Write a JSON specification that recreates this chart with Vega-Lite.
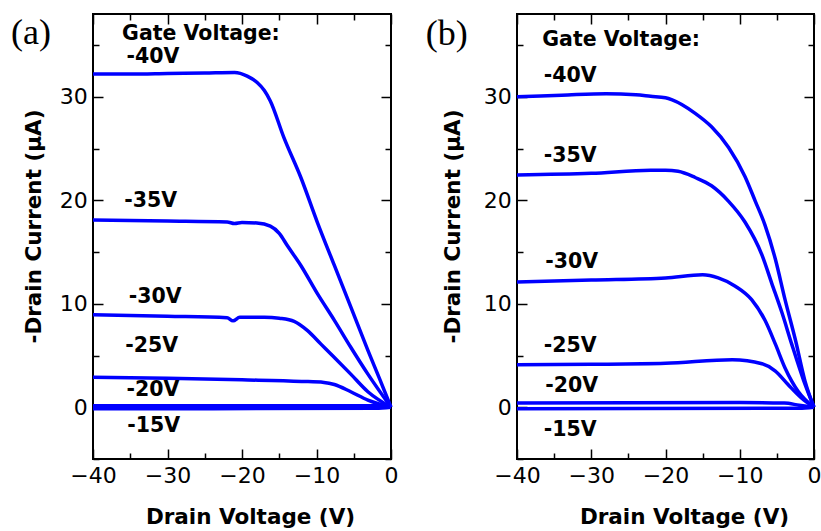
{
  "$schema": "https://vega.github.io/schema/vega-lite/v6.json",
  "background": "white",
  "padding": {"left": 10, "top": 12, "right": 8, "bottom": 3},
  "spacing": 25,
  "config": {
    "view": {"stroke": "black", "strokeWidth": 2},
    "axis": {
      "domain": false,
      "grid": false,
      "labelFont": "DejaVu Sans",
      "labelFontSize": 22,
      "labelColor": "black",
      "labelFlush": false,
      "labelOverlap": false,
      "tickColor": "black",
      "tickWidth": 1.5,
      "titleFont": "DejaVu Sans",
      "titleFontSize": 21.5,
      "titleFontWeight": "bold",
      "titleColor": "black"
    }
  },
  "datasets": {
    "curves": [
      {"p": "a", "g": "-40V", "V": -40, "I": 32.2},
      {"p": "a", "g": "-40V", "V": -35, "I": 32.2},
      {"p": "a", "g": "-40V", "V": -30, "I": 32.25},
      {"p": "a", "g": "-40V", "V": -25, "I": 32.3},
      {"p": "a", "g": "-40V", "V": -21, "I": 32.35},
      {"p": "a", "g": "-40V", "V": -19.3, "I": 32.0},
      {"p": "a", "g": "-40V", "V": -18, "I": 31.4},
      {"p": "a", "g": "-40V", "V": -17, "I": 30.6},
      {"p": "a", "g": "-40V", "V": -16.2, "I": 29.6},
      {"p": "a", "g": "-40V", "V": -14.4, "I": 26.1},
      {"p": "a", "g": "-40V", "V": -12.1, "I": 22.2},
      {"p": "a", "g": "-40V", "V": -9.9, "I": 17.9},
      {"p": "a", "g": "-40V", "V": -7.6, "I": 13.7},
      {"p": "a", "g": "-40V", "V": -5.4, "I": 9.7},
      {"p": "a", "g": "-40V", "V": -3.1, "I": 5.5},
      {"p": "a", "g": "-40V", "V": -1.5, "I": 2.7},
      {"p": "a", "g": "-40V", "V": 0, "I": 0},
      {"p": "a", "g": "-35V", "V": -40, "I": 18.1},
      {"p": "a", "g": "-35V", "V": -30, "I": 18.0},
      {"p": "a", "g": "-35V", "V": -22, "I": 17.9},
      {"p": "a", "g": "-35V", "V": -21, "I": 17.75},
      {"p": "a", "g": "-35V", "V": -20, "I": 17.85},
      {"p": "a", "g": "-35V", "V": -18, "I": 17.8},
      {"p": "a", "g": "-35V", "V": -16.2, "I": 17.5},
      {"p": "a", "g": "-35V", "V": -15, "I": 16.8},
      {"p": "a", "g": "-35V", "V": -13.9, "I": 15.6},
      {"p": "a", "g": "-35V", "V": -12.1, "I": 13.7},
      {"p": "a", "g": "-35V", "V": -9.9, "I": 11.0},
      {"p": "a", "g": "-35V", "V": -7.6, "I": 8.4},
      {"p": "a", "g": "-35V", "V": -5.4, "I": 5.8},
      {"p": "a", "g": "-35V", "V": -3.1, "I": 3.2},
      {"p": "a", "g": "-35V", "V": 0, "I": 0},
      {"p": "a", "g": "-30V", "V": -40, "I": 8.95},
      {"p": "a", "g": "-30V", "V": -30, "I": 8.8},
      {"p": "a", "g": "-30V", "V": -22, "I": 8.65},
      {"p": "a", "g": "-30V", "V": -21.2, "I": 8.35},
      {"p": "a", "g": "-30V", "V": -20.3, "I": 8.7},
      {"p": "a", "g": "-30V", "V": -17, "I": 8.7},
      {"p": "a", "g": "-30V", "V": -15, "I": 8.6},
      {"p": "a", "g": "-30V", "V": -13, "I": 8.3},
      {"p": "a", "g": "-30V", "V": -11.2, "I": 7.4},
      {"p": "a", "g": "-30V", "V": -9.4, "I": 6.1},
      {"p": "a", "g": "-30V", "V": -7.6, "I": 4.8},
      {"p": "a", "g": "-30V", "V": -5.4, "I": 3.2},
      {"p": "a", "g": "-30V", "V": -3.1, "I": 1.5},
      {"p": "a", "g": "-30V", "V": 0, "I": 0},
      {"p": "a", "g": "-25V", "V": -40, "I": 2.9},
      {"p": "a", "g": "-25V", "V": -30, "I": 2.8},
      {"p": "a", "g": "-25V", "V": -20, "I": 2.65},
      {"p": "a", "g": "-25V", "V": -12, "I": 2.5},
      {"p": "a", "g": "-25V", "V": -9, "I": 2.4},
      {"p": "a", "g": "-25V", "V": -7.6, "I": 2.2},
      {"p": "a", "g": "-25V", "V": -5.4, "I": 1.5},
      {"p": "a", "g": "-25V", "V": -3.1, "I": 0.7},
      {"p": "a", "g": "-25V", "V": 0, "I": 0},
      {"p": "a", "g": "-20V", "V": -40, "I": 0.15},
      {"p": "a", "g": "-20V", "V": -2, "I": 0.15},
      {"p": "a", "g": "-20V", "V": 0, "I": 0},
      {"p": "a", "g": "-15V", "V": -40, "I": -0.15},
      {"p": "a", "g": "-15V", "V": -2, "I": -0.1},
      {"p": "a", "g": "-15V", "V": 0, "I": 0},
      {"p": "b", "g": "-40V", "V": -40, "I": 30.0},
      {"p": "b", "g": "-40V", "V": -34, "I": 30.15},
      {"p": "b", "g": "-40V", "V": -28, "I": 30.3},
      {"p": "b", "g": "-40V", "V": -24, "I": 30.2},
      {"p": "b", "g": "-40V", "V": -22, "I": 30.05},
      {"p": "b", "g": "-40V", "V": -20, "I": 29.9},
      {"p": "b", "g": "-40V", "V": -19.1, "I": 29.7},
      {"p": "b", "g": "-40V", "V": -16, "I": 28.4},
      {"p": "b", "g": "-40V", "V": -13.8, "I": 27.1},
      {"p": "b", "g": "-40V", "V": -11.5, "I": 25.1},
      {"p": "b", "g": "-40V", "V": -9.3, "I": 22.3},
      {"p": "b", "g": "-40V", "V": -7.9, "I": 19.9},
      {"p": "b", "g": "-40V", "V": -6.6, "I": 17.6},
      {"p": "b", "g": "-40V", "V": -5.2, "I": 14.3},
      {"p": "b", "g": "-40V", "V": -3.9, "I": 10.4},
      {"p": "b", "g": "-40V", "V": -2.5, "I": 6.5},
      {"p": "b", "g": "-40V", "V": -1.2, "I": 2.5},
      {"p": "b", "g": "-40V", "V": 0, "I": 0},
      {"p": "b", "g": "-35V", "V": -40, "I": 22.45},
      {"p": "b", "g": "-35V", "V": -30, "I": 22.6},
      {"p": "b", "g": "-35V", "V": -22, "I": 22.9},
      {"p": "b", "g": "-35V", "V": -20, "I": 22.9},
      {"p": "b", "g": "-35V", "V": -18.3, "I": 22.8},
      {"p": "b", "g": "-35V", "V": -16, "I": 22.2},
      {"p": "b", "g": "-35V", "V": -13.8, "I": 21.4},
      {"p": "b", "g": "-35V", "V": -11.5, "I": 19.9},
      {"p": "b", "g": "-35V", "V": -9.3, "I": 17.9},
      {"p": "b", "g": "-35V", "V": -7, "I": 14.7},
      {"p": "b", "g": "-35V", "V": -5.7, "I": 12.0},
      {"p": "b", "g": "-35V", "V": -4.3, "I": 9.1},
      {"p": "b", "g": "-35V", "V": -3, "I": 6.1},
      {"p": "b", "g": "-35V", "V": -1.4, "I": 2.6},
      {"p": "b", "g": "-35V", "V": 0, "I": 0},
      {"p": "b", "g": "-30V", "V": -40, "I": 12.1},
      {"p": "b", "g": "-30V", "V": -30, "I": 12.3},
      {"p": "b", "g": "-30V", "V": -20, "I": 12.5},
      {"p": "b", "g": "-30V", "V": -15, "I": 12.8},
      {"p": "b", "g": "-30V", "V": -12.9, "I": 12.5},
      {"p": "b", "g": "-30V", "V": -10.6, "I": 11.7},
      {"p": "b", "g": "-30V", "V": -8.4, "I": 10.4},
      {"p": "b", "g": "-30V", "V": -6.6, "I": 8.4},
      {"p": "b", "g": "-30V", "V": -5.2, "I": 6.1},
      {"p": "b", "g": "-30V", "V": -3.9, "I": 3.8},
      {"p": "b", "g": "-30V", "V": -2.1, "I": 1.5},
      {"p": "b", "g": "-30V", "V": 0, "I": 0},
      {"p": "b", "g": "-25V", "V": -40, "I": 4.1},
      {"p": "b", "g": "-25V", "V": -30, "I": 4.15},
      {"p": "b", "g": "-25V", "V": -20, "I": 4.25},
      {"p": "b", "g": "-25V", "V": -11, "I": 4.6},
      {"p": "b", "g": "-25V", "V": -7, "I": 4.2},
      {"p": "b", "g": "-25V", "V": -5.2, "I": 3.5},
      {"p": "b", "g": "-25V", "V": -3.5, "I": 2.2},
      {"p": "b", "g": "-25V", "V": -1.7, "I": 0.9},
      {"p": "b", "g": "-25V", "V": 0, "I": 0},
      {"p": "b", "g": "-20V", "V": -40, "I": 0.4},
      {"p": "b", "g": "-20V", "V": -10, "I": 0.45},
      {"p": "b", "g": "-20V", "V": -4, "I": 0.4},
      {"p": "b", "g": "-20V", "V": -2, "I": 0.2},
      {"p": "b", "g": "-20V", "V": 0, "I": 0},
      {"p": "b", "g": "-15V", "V": -40, "I": -0.15},
      {"p": "b", "g": "-15V", "V": -2, "I": -0.1},
      {"p": "b", "g": "-15V", "V": 0, "I": 0}
    ],
    "labels": [
      {"p": "a", "t": "Gate Voltage:", "V": -36.1, "I": 36.1},
      {"p": "a", "t": "-40V", "V": -35.5, "I": 33.85},
      {"p": "a", "t": "-35V", "V": -35.8, "I": 19.97},
      {"p": "a", "t": "-30V", "V": -35.2, "I": 10.63},
      {"p": "a", "t": "-25V", "V": -35.66, "I": 5.96},
      {"p": "a", "t": "-20V", "V": -35.5, "I": 1.7},
      {"p": "a", "t": "-15V", "V": -35.4, "I": -1.82},
      {"p": "b", "t": "Gate Voltage:", "V": -36.6, "I": 35.5},
      {"p": "b", "t": "-40V", "V": -36.4, "I": 32.0},
      {"p": "b", "t": "-35V", "V": -36.4, "I": 24.3},
      {"p": "b", "t": "-30V", "V": -36.2, "I": 14.0},
      {"p": "b", "t": "-25V", "V": -36.4, "I": 5.96},
      {"p": "b", "t": "-20V", "V": -36.2, "I": 2.03},
      {"p": "b", "t": "-15V", "V": -36.4, "I": -2.24}
    ],
    "panels": [
      {"p": "a", "t": "(a)", "V": -51.0, "I": 35.1},
      {"p": "b", "t": "(b)", "V": -52.3, "I": 35.0}
    ]
  },
  "hconcat": [
    {
      "width": 298,
      "height": 445,
      "layer": [
        {
          "data": {"name": "curves"},
          "transform": [{"filter": "datum.p === 'a'"}],
          "mark": {"type": "line", "color": "#0000ff", "strokeWidth": 3.5, "interpolate": "monotone"},
          "encoding": {
            "x": {"field": "V", "type": "quantitative", "scale": {"domain": [-40, 0], "nice": false, "zero": false},
              "axis": {"orient": "bottom", "values": [-40, -35, -30, -25, -20, -15, -10, -5, 0],
                "labelExpr": "datum.value % 10 === 0 ? datum.label : ''",
                "tickSize": {"condition": {"test": "datum.value % 10 !== 0", "value": -6}, "value": -10},
                "labelPadding": 16.4, "title": "Drain Voltage (V)", "titleX": 157, "titleY": 64.4,
                "titleBaseline": "alphabetic", "titleAlign": "center"}},
            "y": {"field": "I", "type": "quantitative", "scale": {"domain": [-5, 38], "nice": false, "zero": false},
              "axis": {"orient": "left", "values": [-5, 0, 5, 10, 15, 20, 25, 30, 35],
                "labelExpr": "datum.value % 10 === 0 ? datum.label : ''",
                "tickSize": {"condition": {"test": "datum.value % 10 !== 0", "value": -6}, "value": -10},
                "labelPadding": 15.8, "title": "-Drain Current (µA)", "titleX": -53, "titleY": 212,
                "titleAngle": 270, "titleBaseline": "alphabetic", "titleAlign": "center"}},
            "detail": {"field": "g", "type": "nominal"}
          }
        },
        {
          "data": {"name": "labels"},
          "transform": [{"filter": "datum.p === 'a'"}],
          "mark": {"type": "text", "align": "left", "baseline": "middle", "font": "DejaVu Sans", "fontWeight": "bold", "fontSize": 20.5, "color": "black"},
          "encoding": {
            "x": {"field": "V", "type": "quantitative", "scale": {"domain": [-40, 0], "nice": false, "zero": false},
              "axis": {"orient": "top", "values": [-40, -35, -30, -25, -20, -15, -10, -5, 0], "labels": false, "title": null, "minExtent": 0, "maxExtent": 0,
                "tickSize": {"condition": {"test": "datum.value % 10 !== 0", "value": -6}, "value": -10}}},
            "y": {"field": "I", "type": "quantitative", "scale": {"domain": [-5, 38], "nice": false, "zero": false},
              "axis": {"orient": "right", "values": [-5, 0, 5, 10, 15, 20, 25, 30, 35], "labels": false, "title": null, "minExtent": 0, "maxExtent": 0,
                "tickSize": {"condition": {"test": "datum.value % 10 !== 0", "value": -6}, "value": -10}}},
            "text": {"field": "t", "type": "nominal"}
          }
        },
        {
          "data": {"name": "panels"},
          "transform": [{"filter": "datum.p === 'a'"}],
          "mark": {"type": "text", "align": "left", "baseline": "alphabetic", "font": "Liberation Serif", "fontSize": 36, "color": "black"},
          "encoding": {
            "x": {"field": "V", "type": "quantitative", "scale": {"domain": [-40, 0], "nice": false, "zero": false}, "axis": null},
            "y": {"field": "I", "type": "quantitative", "scale": {"domain": [-5, 38], "nice": false, "zero": false}, "axis": null},
            "text": {"field": "t", "type": "nominal"}
          }
        }
      ],
      "resolve": {"axis": {"x": "independent", "y": "independent"}}
    },
    {
      "width": 297,
      "height": 445,
      "layer": [
        {
          "data": {"name": "curves"},
          "transform": [{"filter": "datum.p === 'b'"}],
          "mark": {"type": "line", "color": "#0000ff", "strokeWidth": 3.5, "interpolate": "monotone"},
          "encoding": {
            "x": {"field": "V", "type": "quantitative", "scale": {"domain": [-40, 0], "nice": false, "zero": false},
              "axis": {"orient": "bottom", "values": [-40, -35, -30, -25, -20, -15, -10, -5, 0],
                "labelExpr": "datum.value % 10 === 0 ? datum.label : ''",
                "tickSize": {"condition": {"test": "datum.value % 10 !== 0", "value": -6}, "value": -10},
                "labelPadding": 16.4, "title": "Drain Voltage (V)", "titleX": 167, "titleY": 64.4,
                "titleBaseline": "alphabetic", "titleAlign": "center"}},
            "y": {"field": "I", "type": "quantitative", "scale": {"domain": [-5, 38], "nice": false, "zero": false},
              "axis": {"orient": "left", "values": [-5, 0, 5, 10, 15, 20, 25, 30, 35],
                "labelExpr": "datum.value % 10 === 0 ? datum.label : ''",
                "tickSize": {"condition": {"test": "datum.value % 10 !== 0", "value": -6}, "value": -10},
                "labelPadding": 15.8, "title": "-Drain Current (µA)", "titleX": -58, "titleY": 212,
                "titleAngle": 270, "titleBaseline": "alphabetic", "titleAlign": "center"}},
            "detail": {"field": "g", "type": "nominal"}
          }
        },
        {
          "data": {"name": "labels"},
          "transform": [{"filter": "datum.p === 'b'"}],
          "mark": {"type": "text", "align": "left", "baseline": "middle", "font": "DejaVu Sans", "fontWeight": "bold", "fontSize": 20.5, "color": "black"},
          "encoding": {
            "x": {"field": "V", "type": "quantitative", "scale": {"domain": [-40, 0], "nice": false, "zero": false},
              "axis": {"orient": "top", "values": [-40, -35, -30, -25, -20, -15, -10, -5, 0], "labels": false, "title": null, "minExtent": 0, "maxExtent": 0,
                "tickSize": {"condition": {"test": "datum.value % 10 !== 0", "value": -6}, "value": -10}}},
            "y": {"field": "I", "type": "quantitative", "scale": {"domain": [-5, 38], "nice": false, "zero": false},
              "axis": {"orient": "right", "values": [-5, 0, 5, 10, 15, 20, 25, 30, 35], "labels": false, "title": null, "minExtent": 0, "maxExtent": 0,
                "tickSize": {"condition": {"test": "datum.value % 10 !== 0", "value": -6}, "value": -10}}},
            "text": {"field": "t", "type": "nominal"}
          }
        },
        {
          "data": {"name": "panels"},
          "transform": [{"filter": "datum.p === 'b'"}],
          "mark": {"type": "text", "align": "left", "baseline": "alphabetic", "font": "Liberation Serif", "fontSize": 36, "color": "black"},
          "encoding": {
            "x": {"field": "V", "type": "quantitative", "scale": {"domain": [-40, 0], "nice": false, "zero": false}, "axis": null},
            "y": {"field": "I", "type": "quantitative", "scale": {"domain": [-5, 38], "nice": false, "zero": false}, "axis": null},
            "text": {"field": "t", "type": "nominal"}
          }
        }
      ],
      "resolve": {"axis": {"x": "independent", "y": "independent"}}
    }
  ]
}
